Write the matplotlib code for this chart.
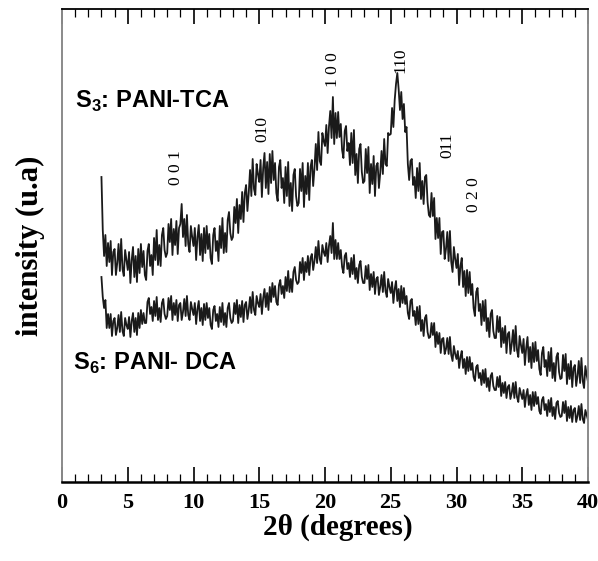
import numpy as np
import matplotlib
matplotlib.use("Agg")
import matplotlib.pyplot as plt
from matplotlib.ticker import MultipleLocator

# 2theta grid: 3.0 .. 40.0 deg in 0.1 deg steps
two_theta = np.arange(30, 401) / 10.0

# S3: PANI-TCA (arbitrary intensity units), one row per degree (3.x, 4.x, ...)
pani_tca = [
    305, 252, 226, 247, 216, 239, 220, 241, 207, 230,
    233, 207, 219, 238, 211, 243, 213, 206, 232, 222,
    212, 230, 199, 222, 235, 205, 226, 200, 233, 209,
    238, 215, 231, 207, 202, 231, 238, 216, 227, 207,
    244, 222, 252, 217, 237, 216, 247, 254, 232, 225,
    229, 258, 240, 263, 227, 253, 237, 261, 228, 254,
    258, 278, 245, 263, 236, 267, 238, 230, 256, 245,
    236, 254, 222, 245, 257, 227, 248, 221, 254, 229,
    256, 233, 248, 224, 218, 247, 254, 231, 241, 221,
    256, 234, 264, 229, 249, 230, 262, 270, 249, 242,
    245, 275, 259, 283, 249, 277, 263, 290, 260, 289,
    297, 271, 289, 312, 286, 323, 293, 287, 318, 308,
    300, 322, 285, 314, 329, 294, 320, 288, 328, 299,
    331, 302, 319, 289, 281, 315, 322, 294, 304, 279,
    315, 286, 320, 276, 299, 271, 307, 313, 286, 276,
    279, 313, 291, 319, 275, 306, 288, 319, 282, 315,
    322, 296, 314, 338, 312, 350, 321, 317, 349, 341,
    336, 357, 329, 355, 371, 344, 385, 338, 369, 344,
    370, 345, 358, 332, 324, 351, 356, 331, 339, 317,
    349, 319, 352, 307, 328, 299, 333, 338, 310, 299,
    301, 333, 309, 335, 289, 318, 298, 326, 286, 316,
    319, 294, 309, 331, 308, 343, 318, 316, 349, 347,
    348, 374, 355, 382, 398, 409, 393, 372, 390, 363,
    378, 350, 355, 318, 302, 321, 323, 297, 305, 284,
    314, 291, 319, 283, 301, 278, 305, 307, 280, 267,
    265, 289, 266, 284, 243, 264, 244, 264, 228, 250,
    251, 223, 233, 250, 221, 251, 220, 210, 235, 223,
    214, 228, 197, 216, 224, 195, 211, 186, 212, 189,
    210, 187, 198, 174, 166, 190, 194, 171, 178, 157,
    181, 161, 182, 151, 164, 145, 168, 172, 151, 144,
    144, 166, 150, 165, 135, 154, 139, 156, 129, 148,
    150, 128, 138, 152, 131, 156, 132, 125, 146, 137,
    129, 143, 117, 134, 145, 120, 135, 114, 139, 120,
    140, 121, 132, 113, 107, 129, 135, 115, 122, 106,
    130, 111, 134, 104, 119, 101, 125, 129, 110, 103,
    104, 127, 111, 128, 98, 118, 103, 121, 95, 114,
    117, 96, 106, 121, 99, 124, 101, 94, 116, 107,
    100,
]

# S6: PANI-DCA
pani_dca = [
    205, 185, 174, 182, 154, 168, 154, 168, 146, 161,
    164, 147, 154, 167, 150, 170, 151, 146, 164, 157,
    153, 165, 145, 161, 169, 150, 164, 147, 169, 154,
    172, 158, 169, 159, 159, 180, 184, 168, 175, 161,
    181, 166, 185, 162, 174, 160, 179, 183, 168, 163,
    166, 184, 172, 186, 162, 179, 167, 182, 161, 177,
    179, 162, 170, 183, 166, 186, 167, 162, 180, 173,
    167, 179, 158, 173, 181, 161, 174, 157, 178, 162,
    179, 164, 174, 157, 153, 172, 176, 161, 168, 155,
    175, 160, 179, 157, 169, 155, 174, 179, 164, 159,
    161, 179, 168, 182, 159, 177, 165, 181, 160, 177,
    180, 163, 172, 185, 169, 190, 172, 167, 186, 179,
    175, 188, 168, 184, 193, 175, 189, 172, 195, 180,
    199, 185, 196, 180, 177, 197, 202, 188, 196, 184,
    205, 191, 211, 190, 203, 190, 210, 215, 202, 198,
    200, 220, 209, 224, 202, 220, 210, 226, 207, 224,
    228, 212, 221, 235, 219, 241, 223, 218, 237, 230,
    226, 239, 220, 236, 246, 229, 259, 223, 242, 223,
    239, 223, 232, 215, 209, 226, 229, 213, 219, 205,
    224, 208, 227, 203, 214, 199, 217, 221, 205, 199,
    199, 216, 203, 217, 192, 208, 195, 210, 188, 203,
    205, 187, 195, 207, 190, 210, 191, 185, 203, 195,
    189, 200, 179, 193, 201, 181, 193, 175, 196, 179,
    194, 178, 186, 169, 163, 181, 183, 166, 171, 157,
    175, 158, 176, 151, 162, 146, 164, 167, 150, 144,
    145, 159, 147, 159, 135, 150, 138, 149, 129, 143,
    144, 128, 133, 144, 128, 145, 127, 121, 136, 128,
    123, 131, 114, 125, 131, 114, 123, 108, 125, 111,
    125, 112, 119, 105, 101, 115, 117, 104, 109, 97,
    112, 99, 113, 95, 104, 91, 106, 109, 96, 92,
    92, 105, 95, 106, 86, 99, 89, 100, 84, 95,
    97, 83, 89, 99, 84, 100, 85, 80, 94, 88,
    83, 92, 75, 87, 93, 77, 87, 72, 90, 76,
    90, 78, 85, 71, 68, 82, 85, 72, 78, 66,
    82, 70, 84, 66, 75, 63, 79, 81, 69, 65,
    66, 80, 69, 81, 61, 75, 64, 76, 60, 72,
    74, 60, 66, 76, 62, 78, 63, 59, 72, 67,
    62,
]

# Miller-index labels: text, 2theta position, height
hkl_labels = ["0 0 1", "010", "1 0 0", "110", "011", "0 2 0"]
hkl_x = [8.67, 15.2, 20.6, 25.7, 29.3, 31.3]
hkl_y = [314, 353, 412, 422, 337, 287]

plt.rcParams["mathtext.fontset"] = "custom"
plt.rcParams["mathtext.rm"] = "Liberation Sans"
plt.rcParams["mathtext.bf"] = "Liberation Sans:bold"

fig = plt.figure(figsize=(5.98, 5.61), dpi=100)
ax = fig.add_axes([62 / 598, 79 / 561, 526 / 598, 473 / 561])

ax.plot(two_theta, pani_tca, color="#1a1a1a", lw=1.3)
ax.plot(two_theta, pani_dca, color="#1a1a1a", lw=1.3)

ax.set_xlim(0, 40)
ax.set_ylim(0, 473)

ax.xaxis.set_major_locator(MultipleLocator(5))
ax.xaxis.set_minor_locator(MultipleLocator(1))
ax.tick_params(axis="x", which="major", direction="in", length=11, width=1.2,
               top=True, bottom=True, pad=8, labelsize=16)
ax.tick_params(axis="x", which="minor", direction="in", length=6, width=0.9,
               top=True, bottom=True)
ax.set_yticks([])
for lab in ax.get_xticklabels():
    lab.set_fontfamily("Liberation Serif")
    lab.set_fontweight("bold")

for s in ["left", "right"]:
    ax.spines[s].set_color("#8a8a8a")
    ax.spines[s].set_linewidth(1.4)
ax.spines["bottom"].set_linewidth(1.8)
ax.spines["top"].set_linewidth(1.3)

ax.set_xlabel("2θ (degrees)", fontfamily="Liberation Serif", fontweight="bold",
              fontsize=21)
ax.xaxis.set_label_coords(0.525, -0.068)
ax.set_ylabel("intensity (u.a)", fontfamily="Liberation Serif", fontweight="bold",
              fontsize=22, labelpad=12)

ax.text(0.99, 374, r"$\mathbf{S}_{\mathbf{3}}$: PANI-TCA", fontfamily="Liberation Sans",
        fontweight="bold", fontsize=17, va="baseline", ha="left")
ax.text(0.84, 112, r"$\mathbf{S}_{\mathbf{6}}$: PANI- DCA", fontfamily="Liberation Sans",
        fontweight="bold", fontsize=17, va="baseline", ha="left")

for t, xx, yy in zip(hkl_labels, hkl_x, hkl_y):
    ax.text(xx, yy, t, rotation=90, ha="center", va="center",
            fontfamily="Liberation Serif", fontsize=12.5)

fig.savefig("out.png", dpi=100)
